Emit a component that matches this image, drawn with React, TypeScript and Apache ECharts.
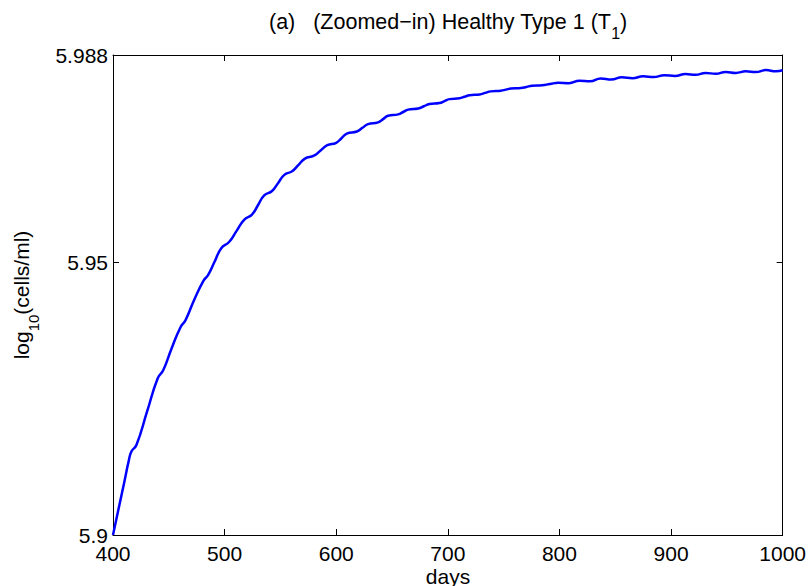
import React, { useEffect, useRef } from "react";
import * as echarts from "echarts";

// Days (x) and log10(cells/ml) values (y)
const days = [
  400, 405, 410, 414,
  416.5, 421, 430.5,
  440, 445, 452.5,
  460.5, 465, 472.5,
  481, 485, 491,
  497, 504, 510.75,
  517.5, 524.5, 530,
  535.5, 542.5, 548,
  553.5, 560.5, 566.25,
  572, 580, 586,
  592, 600, 604.75,
  609.5, 618.5, 623.5,
  628.5, 637.5, 642,
  646.5, 655.5, 660,
  664.5, 673.5, 678.5,
  683.5, 692.5, 697,
  701.5, 710.5, 715,
  719.5, 728.5, 733.5,
  738.5, 747.5, 752,
  756.5, 765.5, 770.5,
  775.5, 784.5, 791.5,
  799, 808.5, 818, 827.5, 837, 846.5, 856, 865.5,
  875, 884.5, 894, 903.5, 913, 922, 931, 940, 949, 958,
  967, 976, 985, 994, 1000,
];
const cells = [
  5.9, 5.9048, 5.9096, 5.9135,
  5.9153, 5.9165, 5.9226,
  5.9287, 5.9302, 5.9342,
  5.9381, 5.9394, 5.943,
  5.9466, 5.9476, 5.9501,
  5.95259, 5.95371, 5.95575,
  5.95779, 5.95874, 5.9605,
  5.96226, 5.96307, 5.96455,
  5.96603, 5.96669, 5.96785,
  5.96901, 5.96954, 5.9705,
  5.97146, 5.97191, 5.97275,
  5.97359, 5.97397, 5.97465,
  5.97533, 5.97565, 5.97625,
  5.97685, 5.97711, 5.97755,
  5.97799, 5.9782, 5.9786,
  5.979, 5.97919, 5.97955,
  5.97991, 5.98007, 5.98035,
  5.98063, 5.98077, 5.98105,
  5.98133, 5.98145, 5.98165,
  5.98185, 5.98195, 5.98215,
  5.98235, 5.98245, 5.98268,
  5.9829, 5.98284, 5.9833, 5.98319, 5.9837, 5.9835, 5.9839, 5.98375,
  5.9841, 5.98395, 5.9843, 5.98416, 5.9845, 5.98436, 5.9847, 5.98456, 5.9849, 5.98472,
  5.985, 5.98487, 5.98525, 5.985, 5.9852,
];
const xMin = 400;
const xMax = 1000;
const xStep = 100;
const yMin = 5.9;
const yMax = 5.988;
const yTicks = [5.9, 5.95, 5.988];

const titleText = "(a)   (Zoomed\u2212in) Healthy Type 1 (T{s|1})";
const yName = "log{s|10}(cells/ml)";
const xName = "days";

const FONT = "'Liberation Sans', Arial, Helvetica, sans-serif";

export default function App() {
  const ref = useRef<HTMLDivElement>(null);

  useEffect(() => {
    if (!ref.current) return;
    const chart = echarts.init(ref.current, null, { renderer: "svg" });
    const points = days.map((d, i) => [d, cells[i]]);
    const lineStyle = { color: "#000", width: 1 };
    const tickStyle = { color: "#000", width: 1 };

    chart.setOption({
      animation: false,
      backgroundColor: "#ffffff",
      grid: { left: 113, right: 26, top: 55, bottom: 51, containLabel: false },
      xAxis: [
        {
          type: "value",
          position: "bottom",
          min: xMin,
          max: xMax,
          interval: xStep,
          axisLine: { show: true, onZero: false, lineStyle },
          axisTick: { show: true, inside: true, length: 6, lineStyle: tickStyle },
          axisLabel: {
            show: true,
            color: "#000",
            fontSize: 21,
            fontFamily: FONT,
            margin: 8,
            formatter: (v: number) => String(v),
          },
          splitLine: { show: false },
        },
        {
          type: "value",
          position: "top",
          min: xMin,
          max: xMax,
          interval: xStep,
          axisLine: { show: true, onZero: false, lineStyle },
          axisTick: { show: true, inside: true, length: 6, lineStyle: tickStyle },
          axisLabel: { show: false },
          splitLine: { show: false },
        },
      ],
      yAxis: [
        {
          type: "value",
          position: "left",
          min: yMin,
          max: yMax,
          axisLine: { show: true, onZero: false, lineStyle },
          axisTick: { show: true, inside: true, length: 6, lineStyle: tickStyle, customValues: yTicks },
          axisLabel: {
            show: true,
            color: "#000",
            fontSize: 21,
            fontFamily: FONT,
            margin: 5,
            customValues: yTicks,
            formatter: (v: number) => String(parseFloat(Number(v).toFixed(3))),
          },
          splitLine: { show: false },
        },
        {
          type: "value",
          position: "right",
          min: yMin,
          max: yMax,
          axisLine: { show: true, onZero: false, lineStyle },
          axisTick: { show: true, inside: true, length: 6, lineStyle: tickStyle, customValues: yTicks },
          axisLabel: { show: false, customValues: yTicks },
          splitLine: { show: false },
        },
      ],
      graphic: [
        {
          type: "text",
          x: 448,
          y: 22,
          style: {
            text: titleText,
            fill: "#000",
            fontSize: 21.5,
            fontFamily: FONT,
            align: "center",
            verticalAlign: "middle",
            rich: {
              s: { fontSize: 16, fontFamily: FONT, fill: "#000", padding: [22, 0, 0, 0] },
            },
          },
        },
        {
          type: "text",
          x: 21.5,
          y: 295,
          rotation: Math.PI / 2,
          style: {
            text: yName,
            fill: "#000",
            fontSize: 21,
            fontFamily: FONT,
            align: "center",
            verticalAlign: "middle",
            rich: {
              s: { fontSize: 15, fontFamily: FONT, fill: "#000", padding: [24, 0, 0, 0] },
            },
          },
        },
        {
          type: "text",
          x: 448,
          y: 576,
          style: {
            text: xName,
            fill: "#000",
            fontSize: 21,
            fontFamily: FONT,
            align: "center",
            verticalAlign: "middle",
          },
        },
      ],
      series: [
        {
          type: "line",
          xAxisIndex: 0,
          yAxisIndex: 0,
          data: points,
          smooth: 0.5,
          showSymbol: false,
          symbol: "none",
          clip: true,
          lineStyle: { color: "#0000ff", width: 2.5 },
        },
      ],
    });

    return () => {
      chart.dispose();
    };
  }, []);

  return (
    <div
      ref={ref}
      style={{ position: "absolute", left: 0, top: 0, width: 809, height: 586 }}
    />
  );
}
